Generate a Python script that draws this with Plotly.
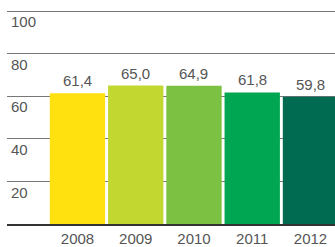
import plotly.graph_objects as go

years = ["2008", "2009", "2010", "2011", "2012"]
values = [61.4, 65.0, 64.9, 61.8, 59.8]
colors = ["#FFE10F", "#C2D72F", "#7DC142", "#00A651", "#006B50"]
y_ticks = [20, 40, 60, 80, 100]
y_tick_labels = ["20", "40", "60", "80", "100"]

fig = go.Figure(go.Bar(
    x=years, y=values,
    marker=dict(color=colors, line=dict(width=0)),
    cliponaxis=False,
))

for i, v in enumerate(values):
    fig.add_annotation(
        x=i, y=v, text=f"{v:.1f}".replace(".", ","),
        showarrow=False, yanchor="bottom", yshift=2,
        font=dict(family="Liberation Sans", size=15, color="#555555"),
    )

fig.update_layout(
    width=335, height=247,
    margin=dict(l=7, r=0, t=10, b=16),
    paper_bgcolor="white", plot_bgcolor="white",
    separators=",.",
    bargap=0.05,
    showlegend=False,
    font=dict(family="Liberation Sans", size=15, color="#555555"),
)
fig.update_xaxes(
    type="category", range=[-1.21, 4.421],
    showgrid=False, showline=True, linecolor="#333333", linewidth=1.5,
    ticks="", tickfont=dict(size=15, color="#555555"),
    ticklabelstandoff=0,
)
fig.update_yaxes(
    range=[0, 100.5], tickvals=y_ticks, ticktext=y_tick_labels,
    showgrid=True, gridcolor="#777777", gridwidth=1,
    zeroline=False, showline=False, ticks="",
    ticklabelposition="inside", ticklabelshift=11, ticklabelstandoff=1,
    tickfont=dict(size=15, color="#555555"),
)
fig.write_html("out.html", post_script="document.body.style.margin='0';",
               config={"displayModeBar": False})
